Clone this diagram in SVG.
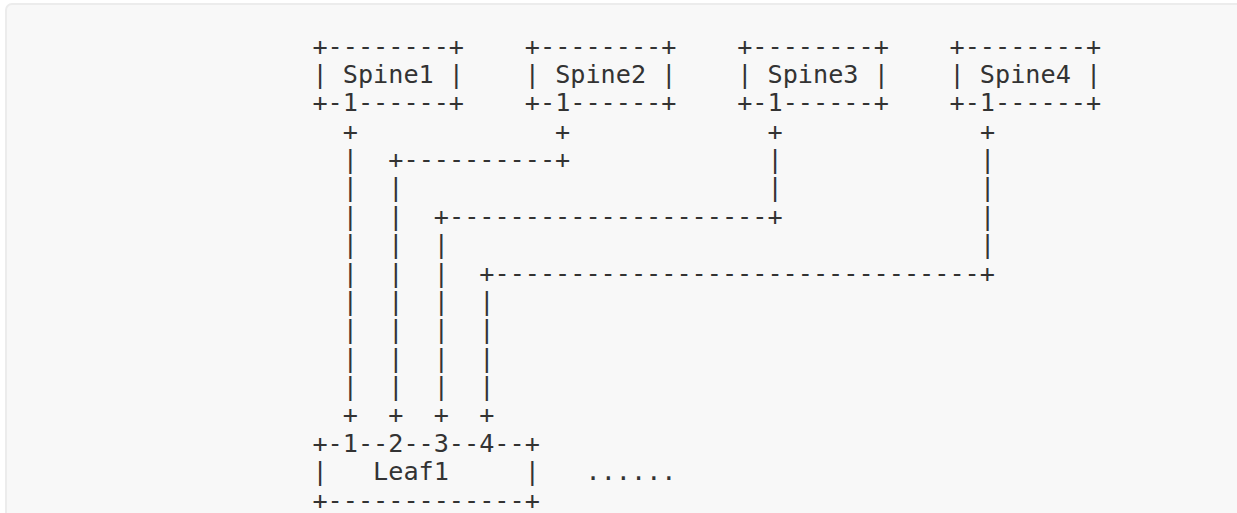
<svg xmlns="http://www.w3.org/2000/svg" width="1237" height="513" viewBox="0 0 1237 513">
<style>
.t{font-family:"DejaVu Sans Mono","Liberation Mono",monospace;font-size:25.2px;fill:#333;white-space:pre}
</style>
<rect x="0" y="0" width="1237" height="513" fill="#ffffff"/>
<rect x="6" y="4" width="1250" height="530" rx="6" fill="#f8f8f8" stroke="#ececec" stroke-width="2"/>
<g id="spine1">
<text class="t" xml:space="preserve" x="312.4" y="54.5">+--------+</text>
<text class="t" xml:space="preserve" x="312.4" y="82.9">| Spine1 |</text>
<text class="t" xml:space="preserve" x="312.4" y="111.3">+-1------+</text>
</g>
<g id="spine2">
<text class="t" xml:space="preserve" x="524.8" y="54.5">+--------+</text>
<text class="t" xml:space="preserve" x="524.8" y="82.9">| Spine2 |</text>
<text class="t" xml:space="preserve" x="524.8" y="111.3">+-1------+</text>
</g>
<g id="spine3">
<text class="t" xml:space="preserve" x="737.2" y="54.5">+--------+</text>
<text class="t" xml:space="preserve" x="737.2" y="82.9">| Spine3 |</text>
<text class="t" xml:space="preserve" x="737.2" y="111.3">+-1------+</text>
</g>
<g id="spine4">
<text class="t" xml:space="preserve" x="949.5" y="54.5">+--------+</text>
<text class="t" xml:space="preserve" x="949.5" y="82.9">| Spine4 |</text>
<text class="t" xml:space="preserve" x="949.5" y="111.3">+-1------+</text>
</g>
<g id="connectors">
<g id="link1">
<text class="t" x="342.7" y="139.6">+</text>
<text class="t" x="342.7" y="168.0">|</text>
<text class="t" x="342.7" y="196.4">|</text>
<text class="t" x="342.7" y="224.8">|</text>
<text class="t" x="342.7" y="253.2">|</text>
<text class="t" x="342.7" y="281.5">|</text>
<text class="t" x="342.7" y="309.9">|</text>
<text class="t" x="342.7" y="338.3">|</text>
<text class="t" x="342.7" y="366.7">|</text>
<text class="t" x="342.7" y="395.1">|</text>
<text class="t" x="342.7" y="423.4">+</text>
</g>
<g id="link2">
<text class="t" x="555.1" y="139.6">+</text>
<text class="t" x="388.3" y="168.0">+----------+</text>
<text class="t" x="388.3" y="196.4">|</text>
<text class="t" x="388.3" y="224.8">|</text>
<text class="t" x="388.3" y="253.2">|</text>
<text class="t" x="388.3" y="281.5">|</text>
<text class="t" x="388.3" y="309.9">|</text>
<text class="t" x="388.3" y="338.3">|</text>
<text class="t" x="388.3" y="366.7">|</text>
<text class="t" x="388.3" y="395.1">|</text>
<text class="t" x="388.3" y="423.4">+</text>
</g>
<g id="link3">
<text class="t" x="767.5" y="139.6">+</text>
<text class="t" x="767.5" y="168.0">|</text>
<text class="t" x="767.5" y="196.4">|</text>
<text class="t" x="433.8" y="224.8">+---------------------+</text>
<text class="t" x="433.8" y="253.2">|</text>
<text class="t" x="433.8" y="281.5">|</text>
<text class="t" x="433.8" y="309.9">|</text>
<text class="t" x="433.8" y="338.3">|</text>
<text class="t" x="433.8" y="366.7">|</text>
<text class="t" x="433.8" y="395.1">|</text>
<text class="t" x="433.8" y="423.4">+</text>
</g>
<g id="link4">
<text class="t" x="979.9" y="139.6">+</text>
<text class="t" x="979.9" y="168.0">|</text>
<text class="t" x="979.9" y="196.4">|</text>
<text class="t" x="979.9" y="224.8">|</text>
<text class="t" x="979.9" y="253.2">|</text>
<text class="t" x="479.3" y="281.5">+--------------------------------+</text>
<text class="t" x="479.3" y="309.9">|</text>
<text class="t" x="479.3" y="338.3">|</text>
<text class="t" x="479.3" y="366.7">|</text>
<text class="t" x="479.3" y="395.1">|</text>
<text class="t" x="479.3" y="423.4">+</text>
</g>
</g>
<g id="leaf1">
<text class="t" xml:space="preserve" x="312.4" y="451.8">+-1--2--3--4--+</text>
<text class="t" xml:space="preserve" x="312.4" y="480.2">|   Leaf1     |</text>
<text class="t" xml:space="preserve" x="312.4" y="508.6">+-------------+</text>
</g>
<g id="more">
<text class="t" xml:space="preserve" x="585.5" y="480.2">......</text>
</g>
</svg>
